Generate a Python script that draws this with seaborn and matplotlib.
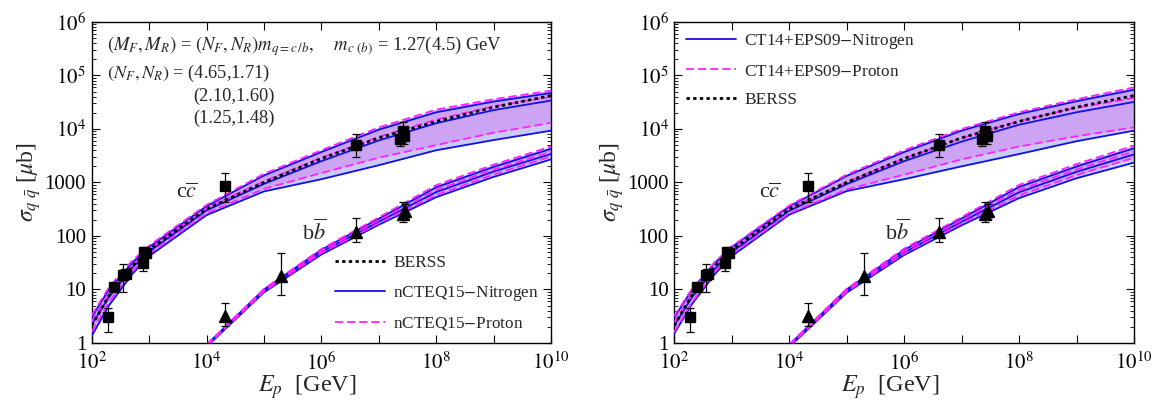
import matplotlib
matplotlib.use("Agg")
import numpy as np
import matplotlib.pyplot as plt
import seaborn as sns
from matplotlib.ticker import FixedLocator, FixedFormatter, LogLocator, NullFormatter

# ---------------- energies (GeV) ----------------
E_c = [1e2, 2e2, 5e2, 1e3, 1e4, 1e5, 1e6, 1e7, 1e8, 1e9, 1e10]
E_b = [1e4, 1e5, 1e6, 1e7, 1e8, 1e9, 1e10]

# ---------------- BERSS reference (charm) ----------------
berss_c = [2.1, 7.6, 27, 55, 320, 1000, 2800, 6800, 13800, 25500, 42000]

# ---------------- nCTEQ15, charm (three (N_F, N_R) sets) ----------------
ncteq_c_p1 = [3.3, 11, 34, 66, 380, 1450, 4000, 10700, 23000, 36000, 52000]
ncteq_c_n1 = [3.0, 10, 31, 62, 360, 1350, 3700, 9700, 20500, 32500, 47000]
ncteq_c_p2 = [2.5, 8.2, 28, 57, 330, 1050, 2900, 7100, 15000, 26500, 40000]
ncteq_c_n2 = [2.2, 7.2, 25, 51, 300, 940, 2500, 6100, 12800, 22500, 34000]
ncteq_c_p3 = [1.6, 5.8, 21, 46, 265, 760, 1500, 2900, 5000, 8500, 13000]
ncteq_c_n3 = [1.35, 5.0, 19, 42, 245, 680, 1150, 2100, 4000, 6200, 9300]

# ---------------- nCTEQ15, bottom ----------------
ncteq_b_p1 = [0.93, 10.2, 57, 222, 890, 2150, 4700]
ncteq_b_n1 = [0.92, 10.0, 55, 210, 810, 1950, 4250]
ncteq_b_p2 = [0.90, 9.7, 52, 196, 720, 1740, 3750]
ncteq_b_n2 = [0.88, 9.3, 50, 185, 660, 1600, 3400]
ncteq_b_p3 = [0.87, 9.1, 48, 172, 580, 1400, 3050]
ncteq_b_n3 = [0.85, 8.8, 45, 162, 530, 1270, 2700]

# ---------------- CT14+EPS09, charm ----------------
eps_c_p1 = [3.2, 10, 32, 64, 370, 1400, 4000, 10000, 20500, 36000, 60000]
eps_c_n1 = [3.0, 9.6, 31, 62, 355, 1330, 3700, 9300, 19000, 33000, 54000]
eps_c_p2 = [2.4, 8.0, 27, 55, 320, 1020, 2800, 6700, 14000, 25000, 38000]
eps_c_n2 = [2.1, 7.0, 24, 50, 295, 930, 2500, 5800, 12000, 20500, 32000]
eps_c_p3 = [1.6, 5.6, 21, 45, 265, 740, 1400, 2700, 4700, 7300, 10700]
eps_c_n3 = [1.5, 5.2, 19, 42, 250, 690, 1150, 2000, 3400, 5900, 9300]

# ---------------- CT14+EPS09, bottom ----------------
eps_b_p1 = [0.94, 10.3, 58, 225, 900, 2200, 4900]
eps_b_n1 = [0.92, 10.0, 55, 212, 820, 1980, 4350]
eps_b_p2 = [0.90, 9.7, 52, 197, 725, 1750, 3800]
eps_b_n2 = [0.88, 9.3, 49, 184, 655, 1580, 3350]
eps_b_p3 = [0.86, 9.0, 47, 170, 570, 1370, 2900]
eps_b_n3 = [0.84, 8.7, 44, 158, 510, 1200, 2350]

# ---------------- measurements ----------------
cc_E = [190, 246, 350, 390, 770, 830, 880, 2.1e4, 4.0e6, 2.3e7, 2.6e7, 2.8e7]
cc_sig = [3.1, 11.3, 18.5, 19.5, 31, 51, 49, 850, 5000, 6500, 9000, 7500]
cc_lo = [1.63, 10.0, 8.9, 17.0, 22.5, 43, 44, 440, 3000, 4800, 6500, 5200]
cc_hi = [4.45, 12.6, 29.5, 22.0, 40, 62, 55, 1480, 7900, 9200, 13700, 10500]

bb_E = [2.1e4, 2.0e5, 4.0e6, 2.6e7, 2.9e7]
bb_sig = [3.2, 17.5, 120, 260, 290]
bb_lo = [2.1, 7.9, 78, 185, 205]
bb_hi = [5.7, 47, 215, 440, 400]

# ---------------- axis ticks ----------------
x_major = [1e2, 1e3, 1e4, 1e5, 1e6, 1e7, 1e8, 1e9, 1e10]
x_labels = [r"$10^{2}$", "", r"$10^{4}$", "", r"$10^{6}$", "", r"$10^{8}$", "", r"$10^{10}$"]
y_major = [1, 10, 100, 1000, 1e4, 1e5, 1e6]
y_labels = ["1", "10", "100", "1000", r"$10^{4}$", r"$10^{5}$", r"$10^{6}$"]

sns.set_theme(style="ticks")
plt.rcParams.update({
    "font.family": ["Liberation Serif", "DejaVu Serif"],
    "mathtext.fontset": "stix",
    "axes.linewidth": 1.0,
    "axes.edgecolor": "black",
    "xtick.color": "black",
    "ytick.color": "black",
})

BLUE = "#1010ee"
PINK = "#ff22ff"
FILL_N = "#c9cbf4"
FILL_P = "#cda4f4"
DASH = (0, (4.5, 2.2))


def draw_panel(ax, c_sets, b_sets, label_n, label_p, legend_kw):
    ax.set_xscale("log")
    ax.set_yscale("log")
    c_p1, c_n1, c_p2, c_n2, c_p3, c_n3 = c_sets
    b_p1, b_n1, b_p2, b_n2, b_p3, b_n3 = b_sets

    # bands
    ax.fill_between(E_c, c_n3, c_p1, color=FILL_N, lw=0, zorder=1)
    ax.fill_between(E_c, c_p3, c_p1, color=FILL_P, lw=0, zorder=1)
    ax.fill_between(E_b, b_n3, b_p1, color=FILL_N, lw=0, zorder=1)
    ax.fill_between(E_b, b_p3, b_p1, color=FILL_P, lw=0, zorder=1)

    # nitrogen curves
    for k, (xs, ys) in enumerate([(E_c, c_n1), (E_c, c_n2), (E_c, c_n3),
                                  (E_b, b_n1), (E_b, b_n2), (E_b, b_n3)]):
        sns.lineplot(x=xs, y=ys, ax=ax, color=BLUE, lw=1.3, estimator=None,
                     sort=False, zorder=3, label=label_n if k == 0 else None,
                     legend=False)
    # proton curves
    for k, (xs, ys) in enumerate([(E_c, c_p1), (E_c, c_p2), (E_c, c_p3),
                                  (E_b, b_p1), (E_b, b_p2), (E_b, b_p3)]):
        sns.lineplot(x=xs, y=ys, ax=ax, color=PINK, lw=1.3, linestyle=DASH,
                     estimator=None, sort=False, zorder=4,
                     label=label_p if k == 0 else None, legend=False)
    # BERSS
    sns.lineplot(x=E_c, y=berss_c, ax=ax, color="black", lw=2.0,
                 linestyle=(0, (1.2, 1.2)), estimator=None, sort=False,
                 zorder=5, label="BERSS", legend=False)

    # measurements
    cs = np.array(cc_sig)
    ax.errorbar(cc_E, cc_sig, yerr=[cs - np.array(cc_lo), np.array(cc_hi) - cs],
                fmt="s", color="black", ms=7, elinewidth=0.9, capsize=3.2,
                capthick=0.9, zorder=6)
    bs = np.array(bb_sig)
    ax.errorbar(bb_E, bb_sig, yerr=[bs - np.array(bb_lo), np.array(bb_hi) - bs],
                fmt="^", color="black", ms=8, elinewidth=0.9, capsize=3.2,
                capthick=0.9, zorder=6)

    ax.text(3.0e3, 640, r"c$\overline{c}$", fontsize=16, ha="left", va="center")
    ax.text(4.6e5, 118, r"b$\overline{b}$", fontsize=16, ha="left", va="center")

    ax.set_xlim(1e2, 1e10)
    ax.set_ylim(1, 1e6)
    ax.xaxis.set_major_locator(FixedLocator(x_major))
    ax.xaxis.set_major_formatter(FixedFormatter(x_labels))
    ax.xaxis.set_minor_locator(FixedLocator([]))
    ax.yaxis.set_major_locator(FixedLocator(y_major))
    ax.yaxis.set_major_formatter(FixedFormatter(y_labels))
    ax.yaxis.set_minor_locator(LogLocator(base=10, subs=np.arange(2, 10)))
    ax.yaxis.set_minor_formatter(NullFormatter())
    ax.tick_params(which="both", direction="in", top=True, right=True,
                   labelsize=15)
    ax.tick_params(axis="x", pad=7)
    ax.tick_params(axis="y", pad=4)
    ax.tick_params(which="major", length=5.5, width=0.8)
    ax.tick_params(which="minor", length=2.8, width=0.6)
    ax.set_xlabel(r"$E_p$  [GeV]", fontsize=17.5)
    ax.xaxis.set_label_coords(0.47, -0.095)
    ax.set_ylabel(r"$\sigma_{q\ \bar{q}}$ [$\mu$b]", fontsize=17, labelpad=1)

    h, l = ax.get_legend_handles_labels()
    order = legend_kw.pop("order")
    lookup = dict(zip(l, h))
    ax.legend([lookup[k] for k in order], order, frameon=False, fontsize=12.4,
              handlelength=2.9, handletextpad=0.5, labelspacing=0.72,
              borderaxespad=0, **legend_kw)


fig = plt.figure(figsize=(11.53, 4.03), dpi=100)
ax1 = fig.add_axes([0.0795, 0.149, 0.3984, 0.7965])
ax2 = fig.add_axes([0.5848, 0.149, 0.3987, 0.7965])

draw_panel(ax1,
           [ncteq_c_p1, ncteq_c_n1, ncteq_c_p2, ncteq_c_n2, ncteq_c_p3, ncteq_c_n3],
           [ncteq_b_p1, ncteq_b_n1, ncteq_b_p2, ncteq_b_n2, ncteq_b_p3, ncteq_b_n3],
           "nCTEQ15$-$Nitrogen", "nCTEQ15$-$Proton",
           dict(order=["BERSS", "nCTEQ15$-$Nitrogen", "nCTEQ15$-$Proton"],
                loc="lower left", bbox_to_anchor=(0.514, 0.012)))
draw_panel(ax2,
           [eps_c_p1, eps_c_n1, eps_c_p2, eps_c_n2, eps_c_p3, eps_c_n3],
           [eps_b_p1, eps_b_n1, eps_b_p2, eps_b_n2, eps_b_p3, eps_b_n3],
           "CT14+EPS09$-$Nitrogen", "CT14+EPS09$-$Proton",
           dict(order=["CT14+EPS09$-$Nitrogen", "CT14+EPS09$-$Proton", "BERSS"],
                loc="upper left", bbox_to_anchor=(0.01, 0.99)))

# scale-choice annotation
ax1.text(0.034, 0.925,
         r"$(M_F, M_R)$ = $(N_F, N_R) m_{q=c\,/b},\ \ \ \ m_{c\ (b)}$ = 1.27(4.5) GeV",
         transform=ax1.transAxes, fontsize=13.4, ha="left", va="center")
ax1.text(0.034, 0.84, r"$(N_F, N_R)$ = (4.65,1.71)",
         transform=ax1.transAxes, fontsize=13.2, ha="left", va="center")
ax1.text(0.221, 0.768, "(2.10,1.60)",
         transform=ax1.transAxes, fontsize=13.2, ha="left", va="center")
ax1.text(0.221, 0.70, "(1.25,1.48)",
         transform=ax1.transAxes, fontsize=13.2, ha="left", va="center")

fig.savefig("out.png", dpi=100)
